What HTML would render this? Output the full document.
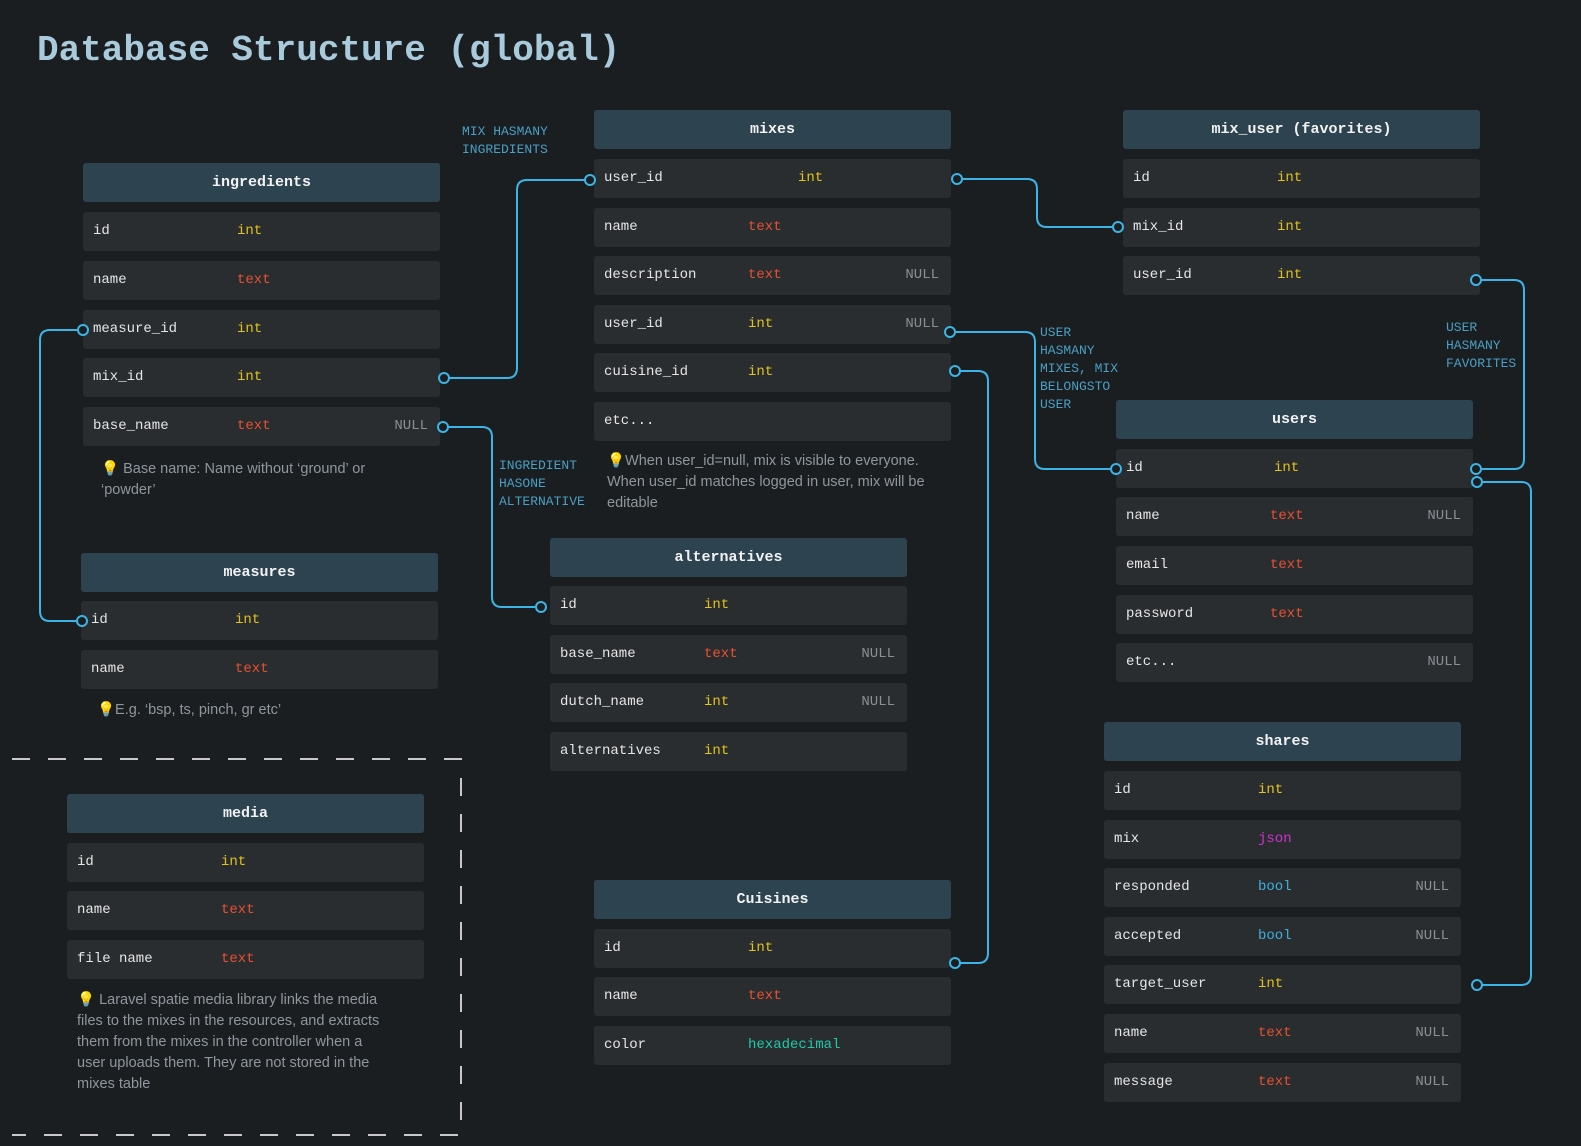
<!DOCTYPE html>
<html><head><meta charset="utf-8"><style>
body{margin:0;width:1581px;height:1146px;background:#1b1e20;position:relative;overflow:hidden;font-family:"Liberation Mono",monospace;}
.h{position:absolute;width:357px;height:39px;background:#2d4450;border-radius:3px;color:#f2f2f2;font-weight:bold;font-size:15px;text-align:center;line-height:39px;}
.r{position:absolute;width:357px;height:39px;background:#2a2d30;border-radius:3px;color:#e6e6e6;font-size:14px;line-height:39px;}
.r .n{position:absolute;left:10px}
.r .t{position:absolute;left:154px}
.r .x{position:absolute;right:12px;color:#8a8f94}
.i{color:#e0c21b}.s{color:#e8502e}.j{color:#d22fd2}.b{color:#3db0e0}.hx{color:#1ec9a8}
.note{position:absolute;color:#8e979d;font-family:"Liberation Sans",sans-serif;font-size:14.5px;line-height:21px}
.lbl{position:absolute;color:#4a9fc4;font-size:13px;line-height:18px}
svg{position:absolute;left:0;top:0;z-index:2}
</style></head><body>
<div style="position:absolute;left:37px;top:30px;font-size:36px;font-weight:bold;color:#a8cadb">Database Structure (global)</div>

<svg width="1581" height="1146" fill="none" stroke="#3bb4e6" stroke-width="2">
<path d="M444 378 H507 Q517 378 517 368 V190 Q517 180 527 180 H590"/>
<path d="M83 330 H50 Q40 330 40 340 V611 Q40 621 50 621 H82"/>
<path d="M443 427 H482 Q492 427 492 437 V597 Q492 607 502 607 H541"/>
<path d="M957 179 H1027 Q1037 179 1037 189 V217 Q1037 227 1047 227 H1118"/>
<path d="M950 332 H1025 Q1035 332 1035 342 V459 Q1035 469 1045 469 H1116"/>
<path d="M955 371 H978 Q988 371 988 381 V953 Q988 963 978 963 H955"/>
<path d="M1476 280 H1514 Q1524 280 1524 290 V459 Q1524 469 1514 469 H1476"/>
<path d="M1477 482 H1521 Q1531 482 1531 492 V975 Q1531 985 1521 985 H1477"/>
<g fill="#1b1e20">
<circle cx="444" cy="378" r="5"/><circle cx="590" cy="180" r="5"/>
<circle cx="83" cy="330" r="5"/><circle cx="82" cy="621" r="5"/>
<circle cx="443" cy="427" r="5"/><circle cx="541" cy="607" r="5"/>
<circle cx="957" cy="179" r="5"/><circle cx="1118" cy="227" r="5"/>
<circle cx="950" cy="332" r="5"/><circle cx="1116" cy="469" r="5"/>
<circle cx="955" cy="371" r="5"/><circle cx="955" cy="963" r="5"/>
<circle cx="1476" cy="280" r="5"/><circle cx="1476" cy="469" r="5"/>
<circle cx="1477" cy="482" r="5"/><circle cx="1477" cy="985" r="5"/>
</g>
<path d="M12 759 H461 V1135 H12" stroke="#c8c8c8" stroke-dasharray="18 18" stroke-width="2"/>
</svg>

<div class="lbl" style="left:462px;top:123px">MIX HASMANY<br>INGREDIENTS</div>
<div class="lbl" style="left:499px;top:457px">INGREDIENT<br>HASONE<br>ALTERNATIVE</div>
<div class="lbl" style="left:1040px;top:324px">USER<br>HASMANY<br>MIXES, MIX<br>BELONGSTO<br>USER</div>
<div class="lbl" style="left:1446px;top:319px">USER<br>HASMANY<br>FAVORITES</div>

<!-- ingredients -->
<div class="h" style="left:83px;top:163px">ingredients</div>
<div class="r" style="left:83px;top:212px"><span class="n">id</span><span class="t i">int</span></div>
<div class="r" style="left:83px;top:261px"><span class="n">name</span><span class="t s">text</span></div>
<div class="r" style="left:83px;top:310px"><span class="n">measure_id</span><span class="t i">int</span></div>
<div class="r" style="left:83px;top:358px"><span class="n">mix_id</span><span class="t i">int</span></div>
<div class="r" style="left:83px;top:407px"><span class="n">base_name</span><span class="t s">text</span><span class="x">NULL</span></div>
<div class="note" style="left:101px;top:459px;width:285px">💡 Base name: Name without ‘ground’ or ‘powder’</div>

<!-- measures -->
<div class="h" style="left:81px;top:553px">measures</div>
<div class="r" style="left:81px;top:601px"><span class="n">id</span><span class="t i">int</span></div>
<div class="r" style="left:81px;top:650px"><span class="n">name</span><span class="t s">text</span></div>
<div class="note" style="left:97px;top:700px">💡E.g. ‘bsp, ts, pinch, gr etc’</div>

<!-- media -->
<div class="h" style="left:67px;top:794px">media</div>
<div class="r" style="left:67px;top:843px"><span class="n">id</span><span class="t i">int</span></div>
<div class="r" style="left:67px;top:891px"><span class="n">name</span><span class="t s">text</span></div>
<div class="r" style="left:67px;top:940px"><span class="n">file name</span><span class="t s">text</span></div>
<div class="note" style="left:77px;top:990px;width:308px">💡 Laravel spatie media library links the media files to the mixes in the resources, and extracts them from the mixes in the controller when a user uploads them. They are not stored in the mixes table</div>

<!-- mixes -->
<div class="h" style="left:594px;top:110px">mixes</div>
<div class="r" style="left:594px;top:159px"><span class="n">user_id</span><span class="t i" style="left:204px">int</span></div>
<div class="r" style="left:594px;top:208px"><span class="n">name</span><span class="t s">text</span></div>
<div class="r" style="left:594px;top:256px"><span class="n">description</span><span class="t s">text</span><span class="x">NULL</span></div>
<div class="r" style="left:594px;top:305px"><span class="n">user_id</span><span class="t i">int</span><span class="x">NULL</span></div>
<div class="r" style="left:594px;top:353px"><span class="n">cuisine_id</span><span class="t i">int</span></div>
<div class="r" style="left:594px;top:402px"><span class="n">etc...</span></div>
<div class="note" style="left:607px;top:451px;width:330px">💡When user_id=null, mix is visible to everyone. When user_id matches logged in user, mix will be editable</div>

<!-- alternatives -->
<div class="h" style="left:550px;top:538px">alternatives</div>
<div class="r" style="left:550px;top:586px"><span class="n">id</span><span class="t i">int</span></div>
<div class="r" style="left:550px;top:635px"><span class="n">base_name</span><span class="t s">text</span><span class="x">NULL</span></div>
<div class="r" style="left:550px;top:683px"><span class="n">dutch_name</span><span class="t i">int</span><span class="x">NULL</span></div>
<div class="r" style="left:550px;top:732px"><span class="n">alternatives</span><span class="t i">int</span></div>

<!-- Cuisines -->
<div class="h" style="left:594px;top:880px">Cuisines</div>
<div class="r" style="left:594px;top:929px"><span class="n">id</span><span class="t i">int</span></div>
<div class="r" style="left:594px;top:977px"><span class="n">name</span><span class="t s">text</span></div>
<div class="r" style="left:594px;top:1026px"><span class="n">color</span><span class="t hx">hexadecimal</span></div>

<!-- mix_user -->
<div class="h" style="left:1123px;top:110px">mix_user (favorites)</div>
<div class="r" style="left:1123px;top:159px"><span class="n">id</span><span class="t i">int</span></div>
<div class="r" style="left:1123px;top:208px"><span class="n">mix_id</span><span class="t i">int</span></div>
<div class="r" style="left:1123px;top:256px"><span class="n">user_id</span><span class="t i">int</span></div>

<!-- users -->
<div class="h" style="left:1116px;top:400px">users</div>
<div class="r" style="left:1116px;top:449px"><span class="n">id</span><span class="t i" style="left:158px">int</span></div>
<div class="r" style="left:1116px;top:497px"><span class="n">name</span><span class="t s">text</span><span class="x">NULL</span></div>
<div class="r" style="left:1116px;top:546px"><span class="n">email</span><span class="t s">text</span></div>
<div class="r" style="left:1116px;top:595px"><span class="n">password</span><span class="t s">text</span></div>
<div class="r" style="left:1116px;top:643px"><span class="n">etc...</span><span class="x">NULL</span></div>

<!-- shares -->
<div class="h" style="left:1104px;top:722px">shares</div>
<div class="r" style="left:1104px;top:771px"><span class="n">id</span><span class="t i">int</span></div>
<div class="r" style="left:1104px;top:820px"><span class="n">mix</span><span class="t j">json</span></div>
<div class="r" style="left:1104px;top:868px"><span class="n">responded</span><span class="t b">bool</span><span class="x">NULL</span></div>
<div class="r" style="left:1104px;top:917px"><span class="n">accepted</span><span class="t b">bool</span><span class="x">NULL</span></div>
<div class="r" style="left:1104px;top:965px"><span class="n">target_user</span><span class="t i">int</span></div>
<div class="r" style="left:1104px;top:1014px"><span class="n">name</span><span class="t s">text</span><span class="x">NULL</span></div>
<div class="r" style="left:1104px;top:1063px"><span class="n">message</span><span class="t s">text</span><span class="x">NULL</span></div>
</body></html>
